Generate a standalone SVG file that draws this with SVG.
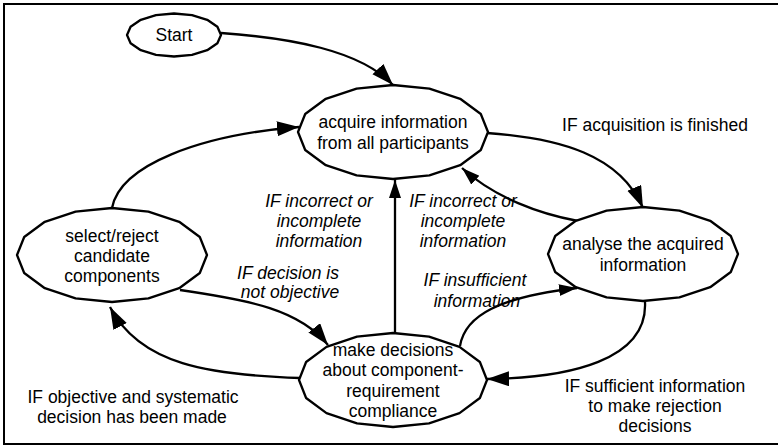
<svg xmlns="http://www.w3.org/2000/svg" width="778" height="446" viewBox="0 0 778 446">
  <style>
    .node { fill: #ffffff; stroke: #000000; stroke-width: 2.3; stroke-linejoin: round; }
    .edge { fill: none; stroke: #000000; stroke-width: 2.3; }
    text { font-family: "Liberation Sans", Arial, sans-serif; font-size: 17.5px; fill: #000000; text-anchor: middle; }
    .cond { font-style: italic; }
  </style>
  <defs>
    <marker id="arrow" markerUnits="userSpaceOnUse" markerWidth="26" markerHeight="18" refX="22" refY="7.5" orient="auto">
      <path d="M0,0 L22,7.5 L0,15 Z" fill="#000000"/>
    </marker>
    <marker id="arrowSmall" markerUnits="userSpaceOnUse" markerWidth="22" markerHeight="14" refX="18" refY="6" orient="auto">
      <path d="M0,0 L18,6 L0,12 Z" fill="#000000"/>
    </marker>
  </defs>

  <rect width="778" height="446" fill="#ffffff"/>
  <!-- frame: top, left and bottom rules -->
  <path d="M778,4 H4 V444 H778" fill="none" stroke="#000000" stroke-width="2"/>

  <g id="connectors">
    <path class="edge" d="M221,33 C290,38 360,50 393,85" marker-end="url(#arrow)"/>
    <path class="edge" d="M487,133 C560,138 620,155 643,208" marker-end="url(#arrow)"/>
    <path class="edge" d="M578,221 C540,214 495,198 462,168" marker-end="url(#arrowSmall)"/>
    <path class="edge" d="M395,333 L395,180" marker-end="url(#arrowSmall)"/>
    <path class="edge" d="M460,346 C465,315 500,297 577,288" marker-end="url(#arrowSmall)"/>
    <path class="edge" d="M645,302 C648,360 570,378 487,379" marker-end="url(#arrow)"/>
    <path class="edge" d="M300,378 C210,375 140,365 110,307" marker-end="url(#arrow)"/>
    <path class="edge" d="M180,290 C250,300 300,310 328,345" marker-end="url(#arrow)"/>
    <path class="edge" d="M112,208 C120,165 200,135 299,127" marker-end="url(#arrow)"/>
  </g>

  <g id="conditions">
    <text x="655" y="131">IF acquisition is finished</text>
    <text class="cond" x="319" y="207">IF incorrect or</text>
    <text class="cond" x="319" y="227">incomplete</text>
    <text class="cond" x="319" y="247">information</text>
    <text class="cond" x="463" y="207">IF incorrect or</text>
    <text class="cond" x="463" y="227">incomplete</text>
    <text class="cond" x="463" y="247">information</text>
    <text class="cond" x="288" y="279">IF decision is</text>
    <text class="cond" x="290" y="298">not objective</text>
    <text class="cond" x="475" y="286">IF insufficient</text>
    <text class="cond" x="477" y="307">information</text>
    <text x="133" y="403">IF objective and systematic</text>
    <text x="132" y="423">decision has been made</text>
    <text x="655" y="392">IF sufficient information</text>
    <text x="655" y="412">to make rejection</text>
    <text x="655" y="432">decisions</text>
  </g>

  <g id="start">
    <polygon class="node" points="221,35 217.4,43.2 207.2,50.2 192,54.9 174,56.5 156,54.9 140.8,50.2 130.6,43.2 127,35 130.6,26.8 140.8,19.8 156,15.1 174,13.5 192,15.1 207.2,19.8 217.4,26.8"/>
    <text x="174" y="41">Start</text>
  </g>

  <g id="acquire">
    <polygon class="node" points="488,132 480.8,150 460.2,165.2 429.4,175.4 393,179 356.6,175.4 325.8,165.2 305.2,150 298,132 305.2,114 325.8,98.8 356.6,88.6 393,85 429.4,88.6 460.2,98.8 480.8,114"/>
    <text x="393" y="128">acquire information</text>
    <text x="393" y="149">from all participants</text>
  </g>

  <g id="analyse">
    <polygon class="node" points="738,254 730.8,272 710.2,287.2 679.4,297.4 643,301 606.6,297.4 575.8,287.2 555.2,272 548,254 555.2,236 575.8,220.8 606.6,210.6 643,207 679.4,210.6 710.2,220.8 730.8,236"/>
    <text x="643" y="250">analyse the acquired</text>
    <text x="643" y="271">information</text>
  </g>

  <g id="select">
    <polygon class="node" points="207,255 199.8,273 179.2,288.2 148.4,298.4 112,302 75.6,298.4 44.8,288.2 24.2,273 17,255 24.2,237 44.8,221.8 75.6,211.6 112,208 148.4,211.6 179.2,221.8 199.8,237"/>
    <text x="112" y="242">select/reject</text>
    <text x="112" y="262">candidate</text>
    <text x="112" y="282">components</text>
  </g>

  <g id="decide">
    <polygon class="node" points="487,380 479.9,398 459.5,413.2 429,423.4 393,427 357,423.4 326.5,413.2 306.1,398 299,380 306.1,362 326.5,346.8 357,336.6 393,333 429,336.6 459.5,346.8 479.9,362"/>
    <text x="393" y="356">make decisions</text>
    <text x="393" y="376">about component-</text>
    <text x="393" y="397">requirement</text>
    <text x="393" y="417">compliance</text>
  </g>
</svg>
